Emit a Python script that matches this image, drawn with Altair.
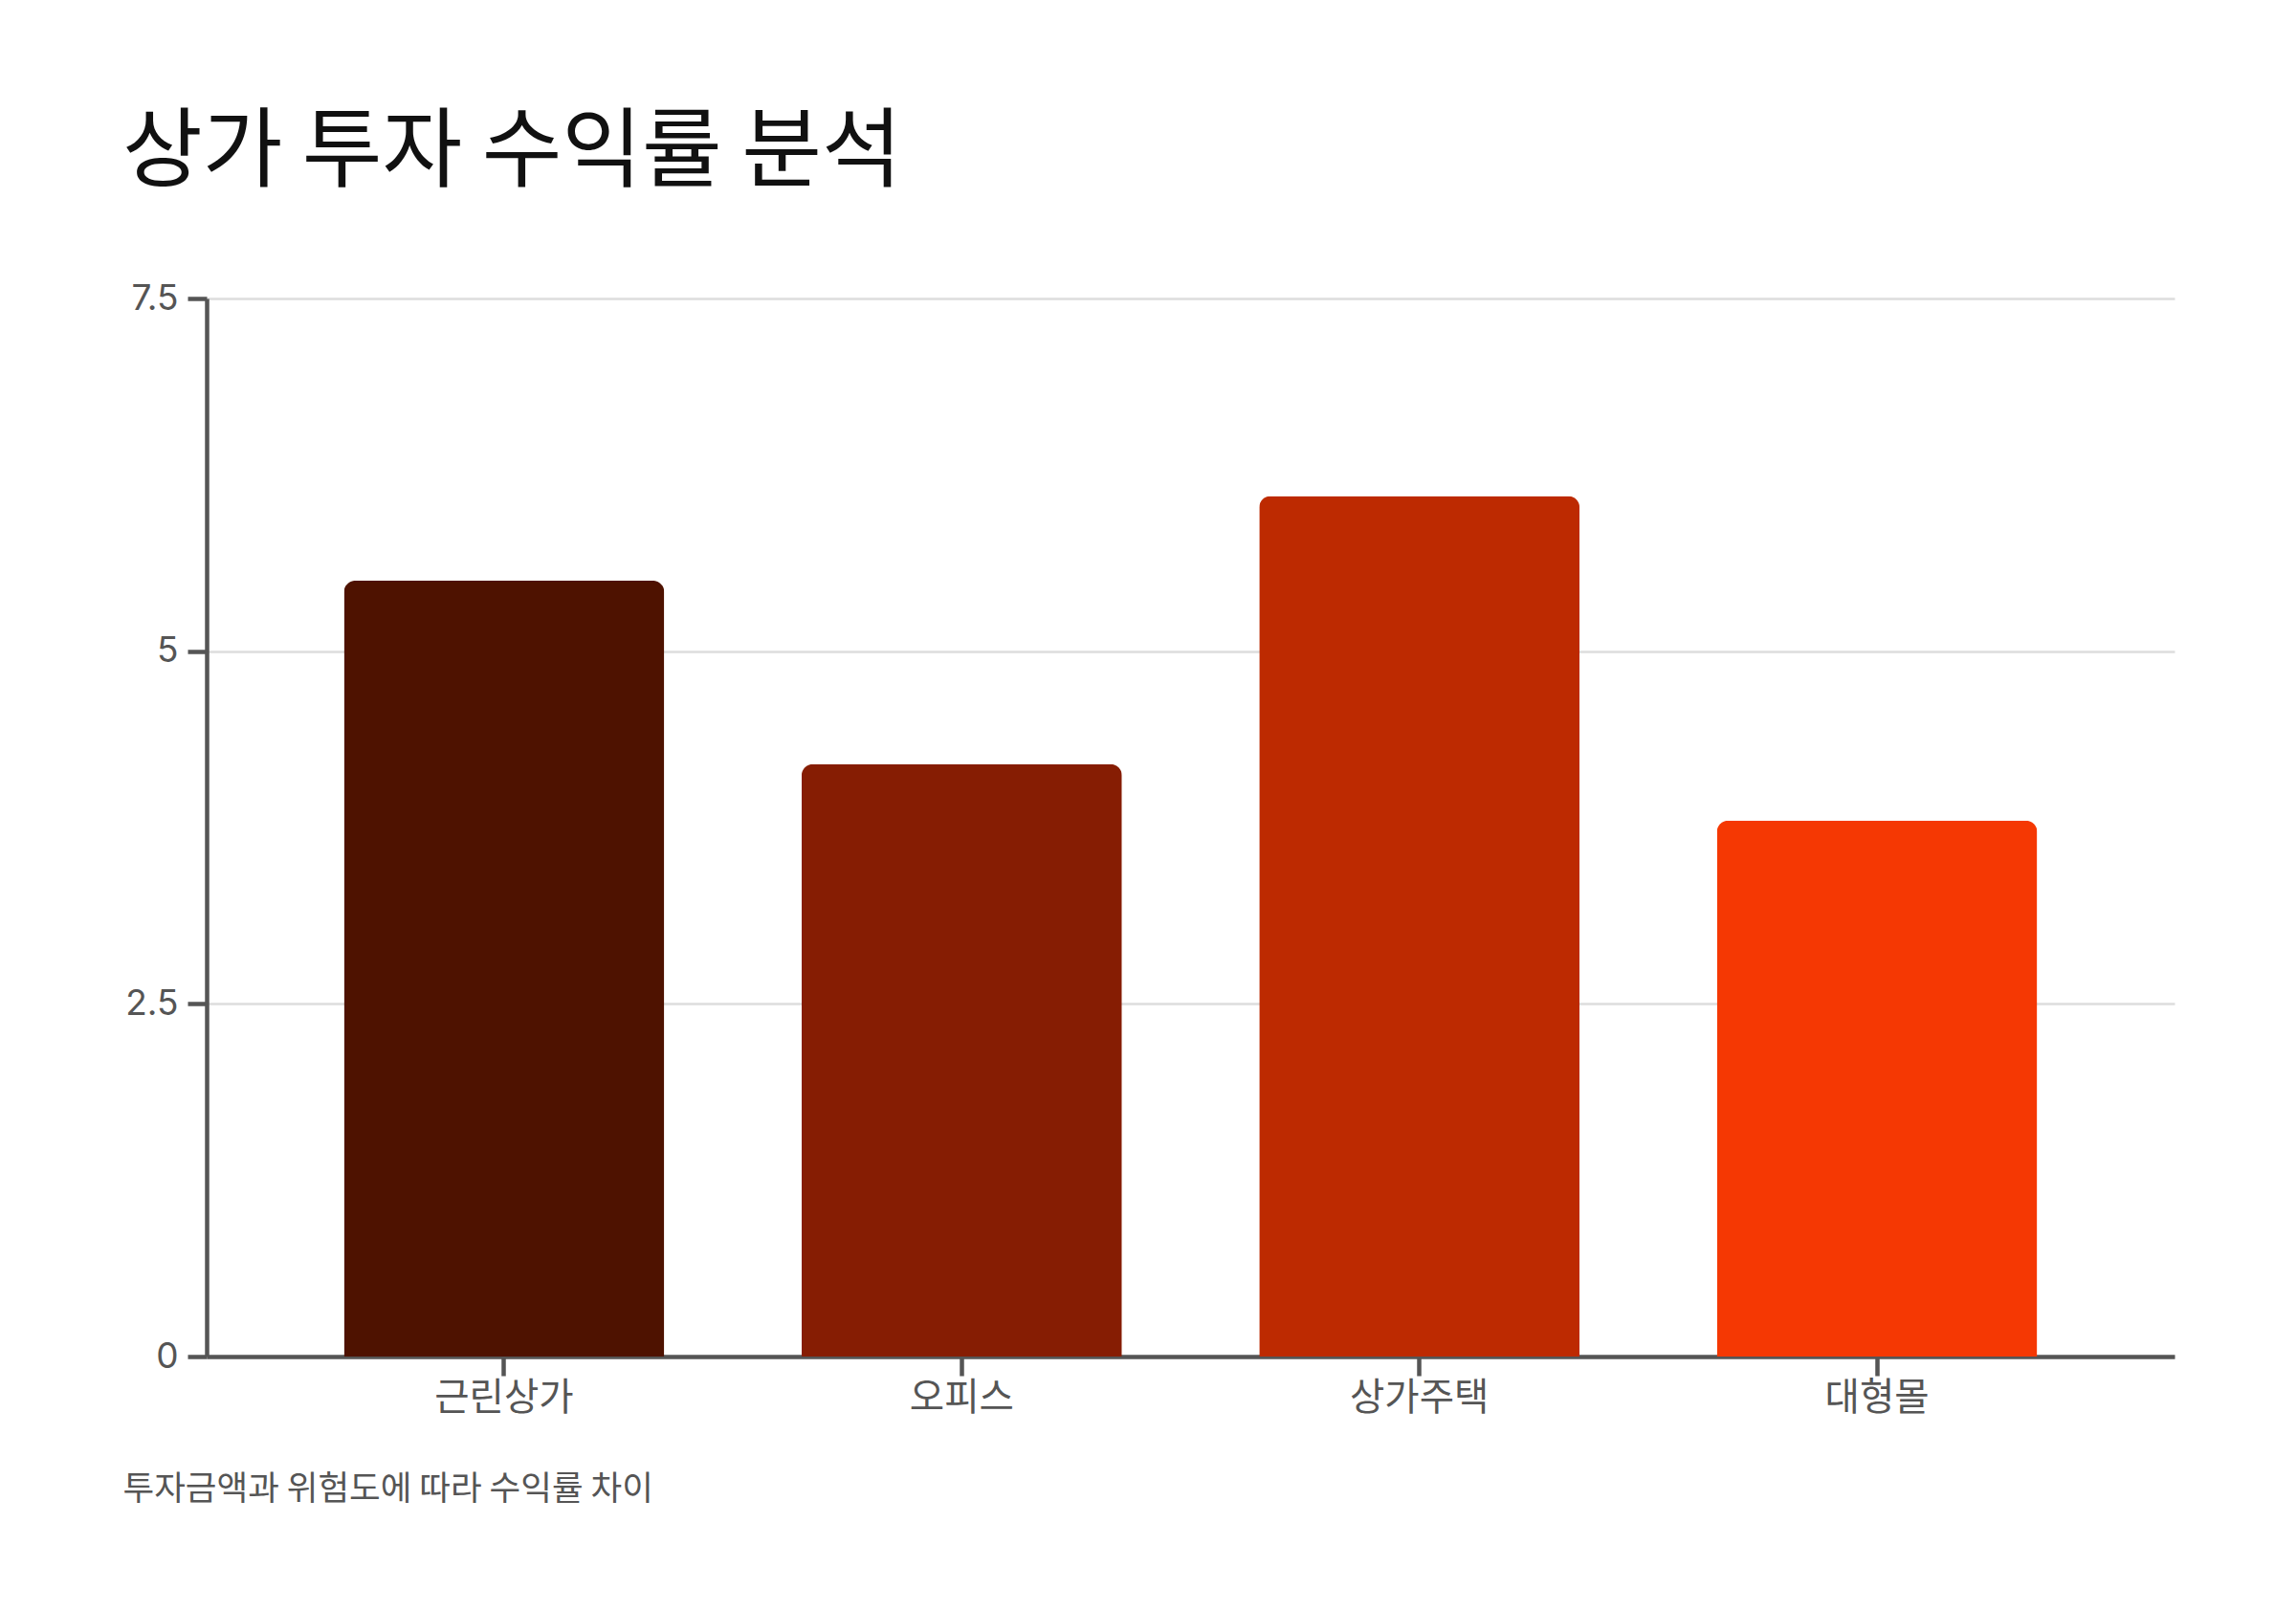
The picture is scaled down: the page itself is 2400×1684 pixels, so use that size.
import altair as alt
import pandas as pd

categories = ["근린상가", "오피스", "상가주택", "대형몰"]
returns = [5.5, 4.2, 6.1, 3.8]
colors = ["#4e1200", "#861d03", "#bd2a01", "#f53803"]
y_ticks = [0, 2.5, 5, 7.5]

title_text = "상가 투자 수익률 분석"
note_text = "투자금액과 위험도에 따라 수익률 차이"

df = pd.DataFrame({"유형": categories, "수익률": returns})

FONT = "Inter, 'Noto Sans CJK KR', sans-serif"
KFONT = "'Noto Sans CJK KR', sans-serif"

chart = (
    alt.Chart(df)
    .mark_bar(cornerRadiusTopLeft=12, cornerRadiusTopRight=12)
    .encode(
        x=alt.X(
            "유형:N",
            sort=categories,
            scale=alt.Scale(paddingInner=0.3, paddingOuter=0.3),
            axis=alt.Axis(
                title=note_text,
                titleFont=KFONT,
                titleFontSize=35.5,
                titleFontWeight="normal",
                titleColor="#555555",
                titleAlign="left",
                titleAnchor="start",
                titleBaseline="alphabetic",
                titleX=-88,
                titleY=149,
                labelAngle=0,
                labelFont=KFONT,
                labelFontSize=39.5,
                labelColor="#555555",
                labelPadding=4,
                tickSize=20,
                tickWidth=4.5,
                tickColor="#555555",
                domainColor="#555555",
                domainWidth=4.5,
                grid=False,
            ),
        ),
        y=alt.Y(
            "수익률:Q",
            scale=alt.Scale(domain=[0, 7.5], nice=False),
            axis=alt.Axis(
                title=None,
                values=y_ticks,
                format=".1~f",
                labelFont=FONT,
                labelFontSize=37,
                labelColor="#555555",
                labelPadding=10,
                tickSize=20,
                tickWidth=4.5,
                tickColor="#555555",
                domainColor="#555555",
                domainWidth=4.5,
                gridColor="#dddddd",
                gridWidth=2.5,
            ),
        ),
        color=alt.Color(
            "유형:N",
            sort=categories,
            scale=alt.Scale(domain=categories, range=colors),
            legend=None,
        ),
    )
    .properties(
        width=2057,
        height=1106,
        background="white",
        title=alt.TitleParams(
            text=title_text,
            font=KFONT,
            fontSize=91,
            fontWeight="normal",
            color="#111111",
            anchor="start",
            frame="group",
            dx=-88,
            offset=86,
        ),
        autosize=alt.AutoSizeParams(type="none"),
        padding={"left": 208, "top": 304, "right": 119, "bottom": 250},
    )
    .configure_view(strokeWidth=0, stroke=None)
)

chart.save("out.html", embed_options={"renderer": "svg", "actions": False})
